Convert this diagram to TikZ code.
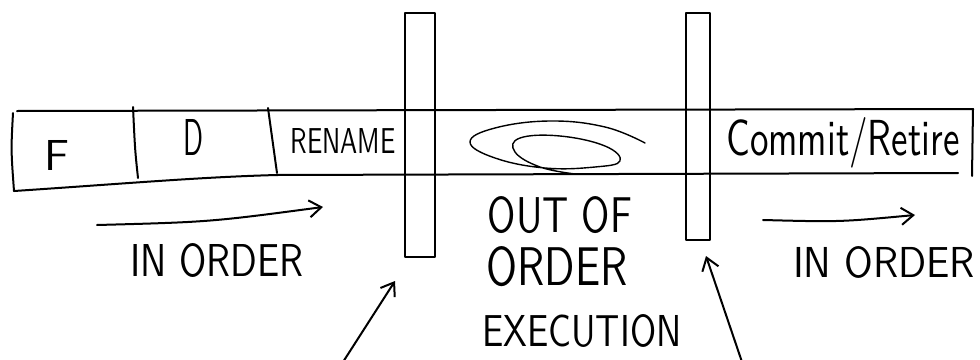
\documentclass[tikz,border=0pt]{standalone}
\usepackage{graphicx}
\usepackage{fontspec}
\usetikzlibrary{arrows.meta}
\newcommand{\hw}[3]{\resizebox{#1pt}{#2pt}{\sffamily #3}}
\tikzset{
  pen/.style={line width=2pt, line cap=round, line join=round, black},
  thinpen/.style={line width=1.4pt, line cap=round, line join=round, black},
  arr/.style={-{Straight Barb[length=12pt,width=17pt,line width=2pt]}},
  txt/.style={inner sep=0pt, outer sep=0pt},
  bar/.style={pen, draw, rectangle, inner sep=0pt, fill=none}
}
\begin{document}
\begin{tikzpicture}[x=1pt,y=-1pt]
\useasboundingbox (0,0) rectangle (980,359);
% pipeline band
\coordinate (tl) at (17,111);
\coordinate (tr) at (973,109);
\coordinate (bl) at (14,191);
\coordinate (br) at (972,176);
\draw[pen] (tl) -- (tr);
\draw[pen] (13,113) .. controls (11,150) .. (bl);
\draw[pen] (bl) .. controls (120,184) and (200,177) .. (277,175) -- (958,173);
\draw[pen] (tr) -- (br);
% stage dividers
\draw[pen] (133,107) .. controls (135,150) .. (138,178);
\draw[pen] (268,108) .. controls (272,140) .. (277,173);
% stage labels
\node[txt] (f) at (57,155) {\hw{25}{30}{F}};
\node[txt] (d) at (193,137) {\hw{20}{36}{D}};
\node[txt] (ren) at (343,141) {\hw{105}{25}{RENAME}};
\node[txt] (com) at (843,143) {\hw{233}{38}{Commit/Retire}};
% out-of-order loops
\draw[thinpen] plot[smooth, tension=0.7] coordinates {(645,143) (605,127) (550,121) (495,128) (470,142) (495,158) (545,168) (595,167) (620,161) (605,146) (560,136) (520,138) (515,152) (540,167) (575,174)};
% register bars
\node[bar, minimum width=30pt, minimum height=244pt] (barL) at (420,135) {};
\node[bar, minimum width=24pt, minimum height=227pt] (barR) at (698,126.5) {};
% in-order arrows
\coordinate (a1s) at (97,225);
\coordinate (a1e) at (323,207);
\draw[pen,arr] (a1s) .. controls (210,222) .. (a1e);
\coordinate (a2s) at (763,220);
\coordinate (a2e) at (915,215);
\draw[pen,arr] (a2s) .. controls (840,222) .. (a2e);
% texts below
\node[txt] (io1) at (217,260) {\hw{173}{33}{IN ORDER}};
\node[txt] (oo1) at (560,215) {\hw{144}{36}{OUT OF}};
\node[txt] (oo2) at (557,267) {\hw{141}{39}{ORDER}};
\node[txt] (oo3) at (582,331) {\hw{199}{32}{EXECUTION}};
\node[txt] (io2) at (884,262) {\hw{182}{31}{IN ORDER}};
% pointer arrows to bars
\coordinate (p1s) at (343,362);
\coordinate (p1t) at (395,281);
\draw[pen,arr] (p1s) -- (p1t);
\coordinate (p2s) at (742,362);
\coordinate (p2t) at (706,256);
\draw[pen,arr] (p2s) -- (p2t);
\end{tikzpicture}
\end{document}
